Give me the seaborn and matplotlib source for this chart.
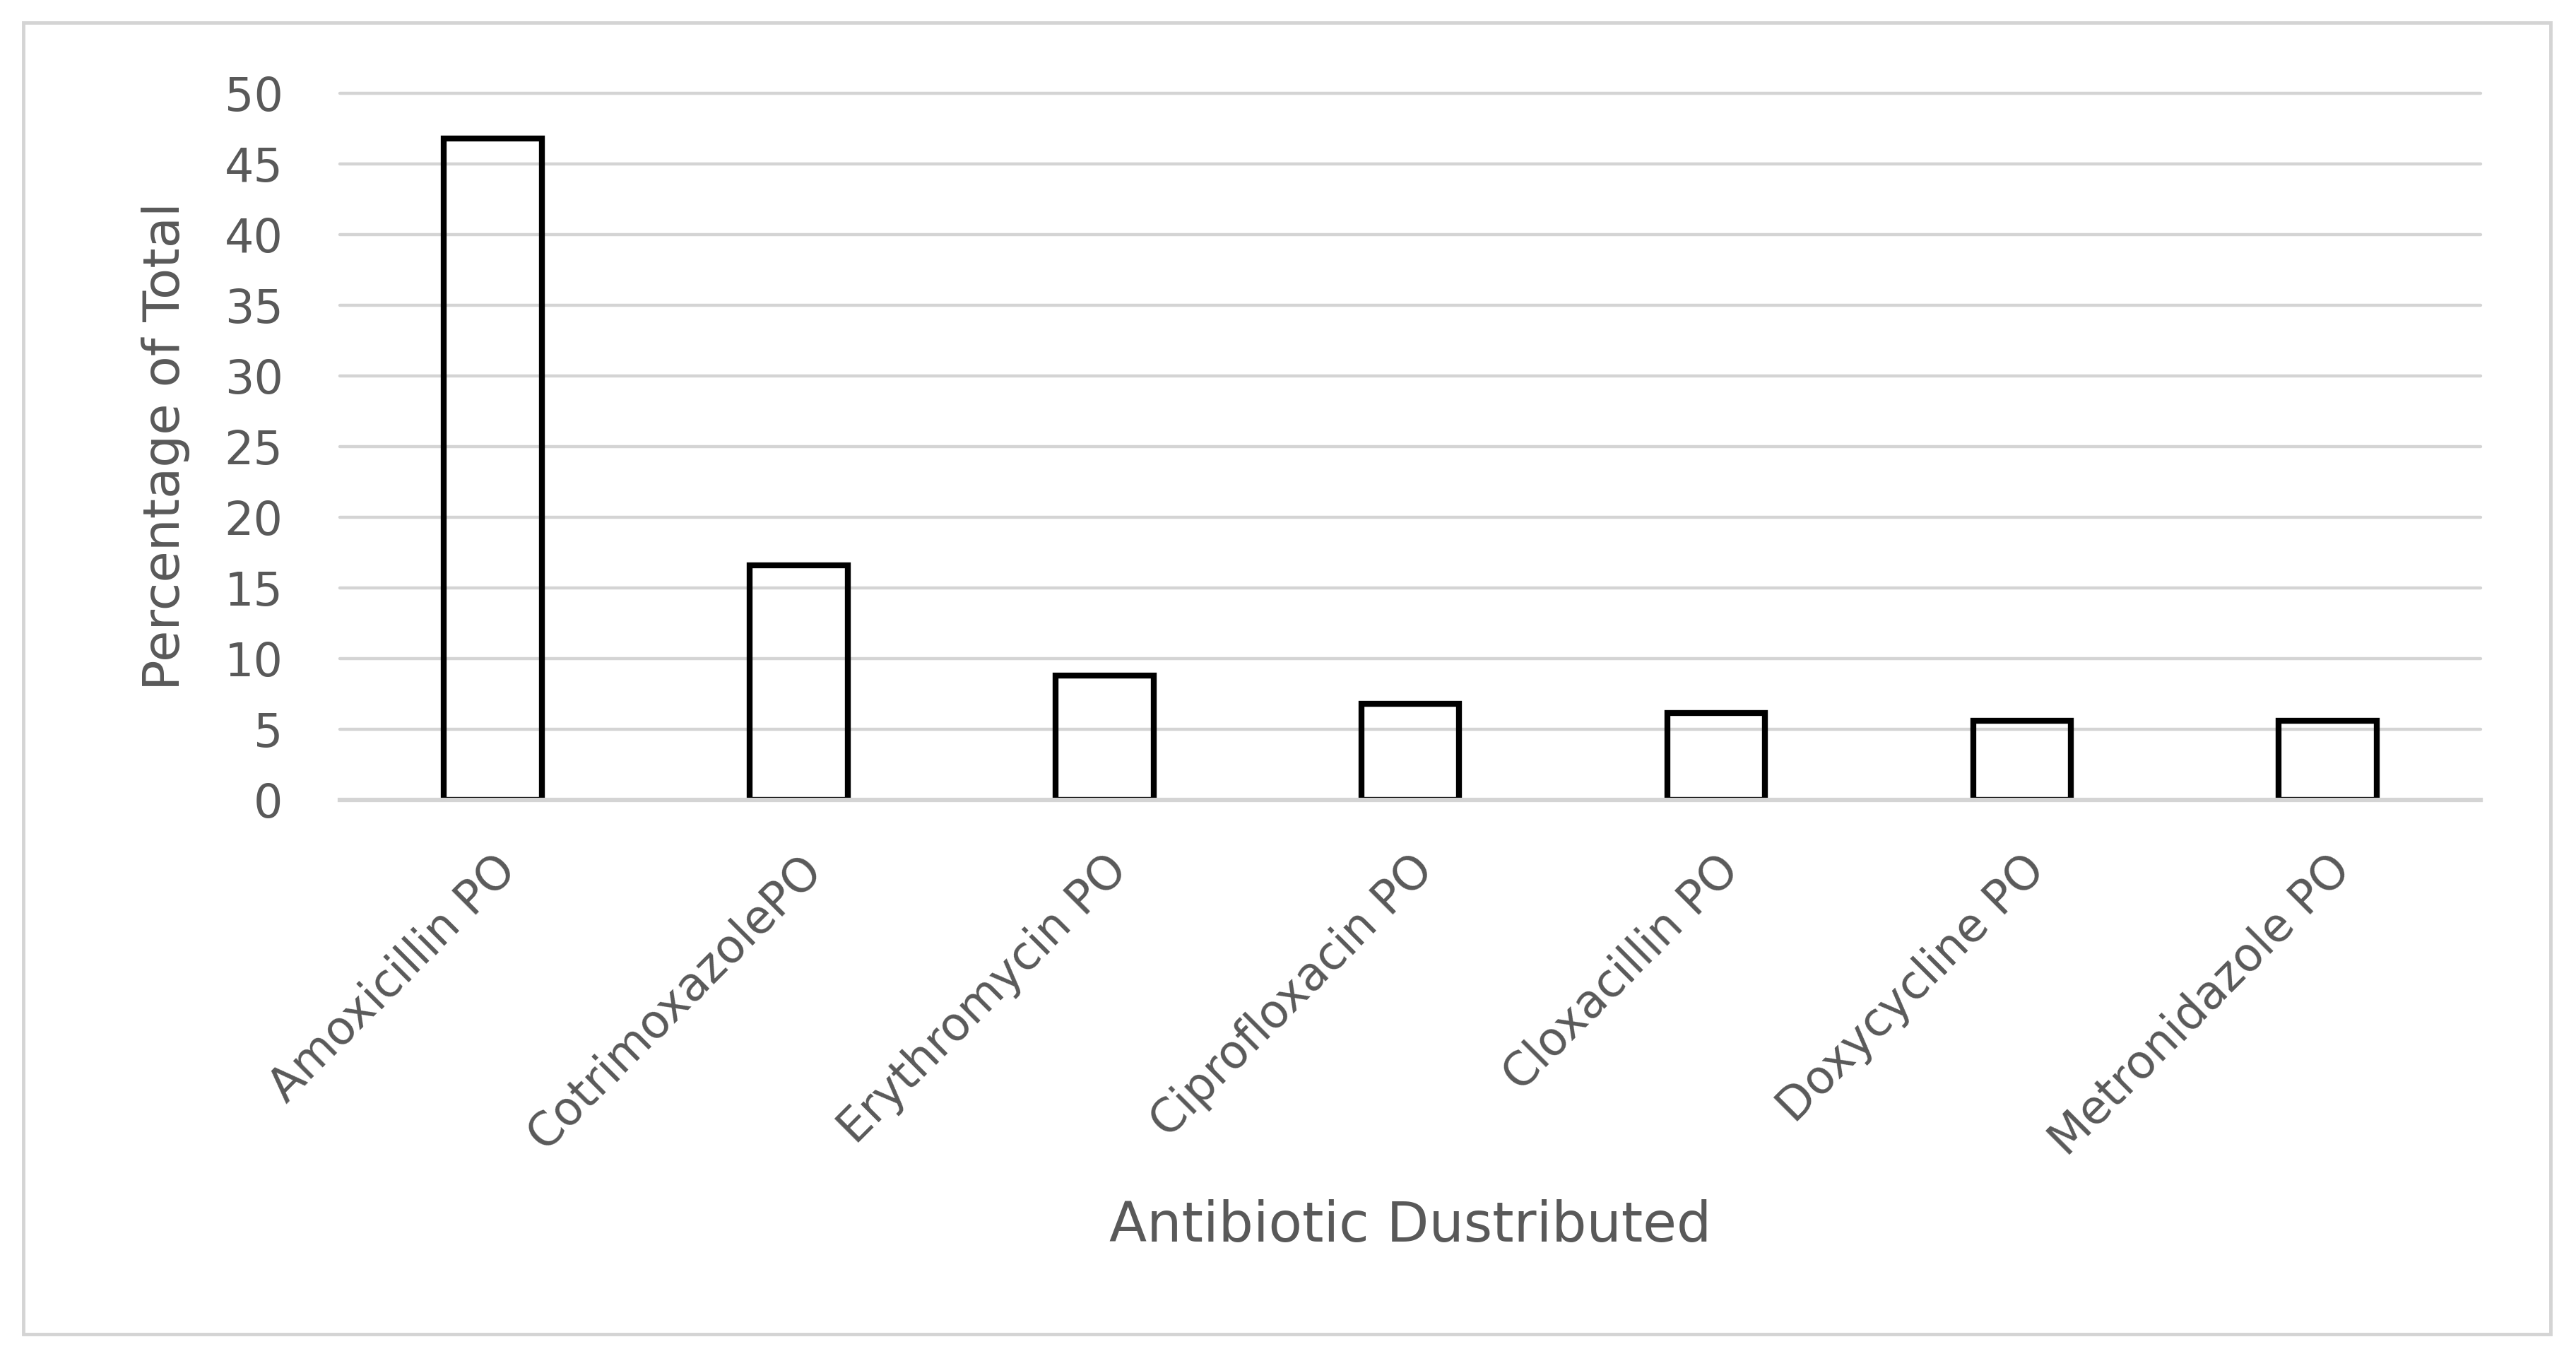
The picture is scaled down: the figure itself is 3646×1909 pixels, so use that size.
import matplotlib
matplotlib.use("Agg")
import matplotlib.pyplot as plt
import seaborn as sns
from matplotlib.patches import Rectangle

drugs = ["Amoxicillin PO", "CotrimoxazolePO", "Erythromycin PO", "Ciprofloxacin PO",
         "Cloxacillin PO", "Doxycycline PO", "Metronidazole PO"]
percent = [46.8, 16.6, 8.8, 6.8, 6.15, 5.6, 5.6]
yticks = [0, 5, 10, 15, 20, 25, 30, 35, 40, 45, 50]

sns.set_style("white")
plt.rcParams['font.family'] = ['DejaVu Sans']
grey_text = '#595959'
grid_col = '#d4d4d4'

fig = plt.figure(figsize=(36.46, 19.09), dpi=100)
ax = fig.add_axes([0.132, 0.407, 0.831, 0.524])

sns.barplot(x=drugs, y=percent, fill=False, color='black', linewidth=6,
            width=0.32, ax=ax, zorder=2)

ax.set_ylim(0, 50)
ax.set_yticks(yticks)
ax.yaxis.grid(True, color=grid_col, linewidth=3.2, zorder=0)
ax.set_axisbelow(True)
# keep the top gridline full width (not clipped at the axes edge)
for gl in ax.get_ygridlines():
    gl.set_clip_on(False)
for s in ['top', 'right', 'left']:
    ax.spines[s].set_visible(False)
ax.spines['bottom'].set_color(grid_col)
ax.spines['bottom'].set_linewidth(4.5)
ax.spines['bottom'].set_zorder(5)

ax.tick_params(axis='y', length=0, pad=58, labelsize=47, labelcolor=grey_text)
ax.tick_params(axis='x', length=0, pad=48, labelsize=47, labelcolor=grey_text)
plt.setp(ax.get_xticklabels(), rotation=45, ha='right', va='top', rotation_mode='anchor')

ax.set_xlabel('Antibiotic Dustributed', fontsize=56, color=grey_text)
ax.set_ylabel('Percentage of Total', fontsize=52, color=grey_text)
ax.xaxis.set_label_coords(0.5, -0.565)
ax.yaxis.set_label_coords(-0.07, 0.5)

# outer chart border
fig.patches.append(Rectangle((0.009, 0.011), 0.981, 0.972, transform=fig.transFigure,
                             fill=False, edgecolor=grid_col, linewidth=3.5))

fig.savefig('out.png', dpi=100, facecolor='white')
